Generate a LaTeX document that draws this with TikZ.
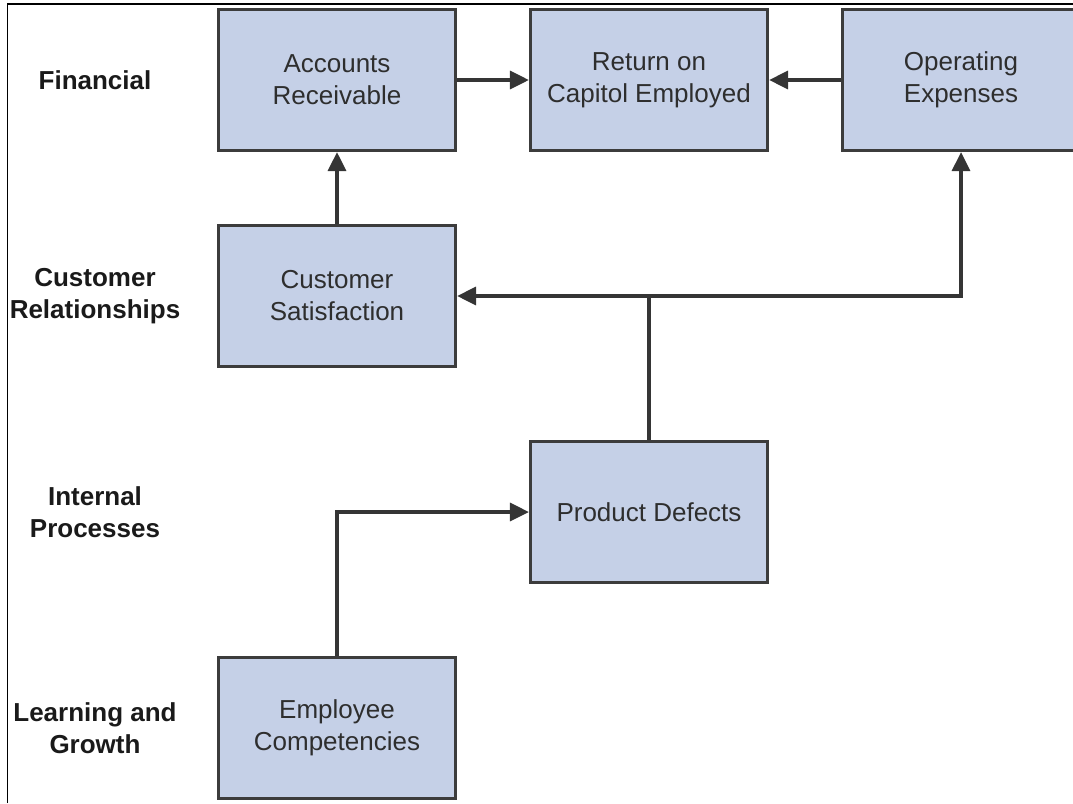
\documentclass[tikz,border=0pt]{standalone}
\usepackage{fontspec}
\setmainfont{Liberation Sans}
\usetikzlibrary{arrows.meta}

\definecolor{boxfill}{HTML}{C5D0E7}
\definecolor{boxline}{HTML}{3C3C3C}
\definecolor{boxtext}{HTML}{2E2E2E}
\definecolor{wire}{HTML}{353535}
\definecolor{lanetext}{HTML}{1A1A1A}

\tikzset{
  measure/.style={draw=boxline, line width=3.2pt, fill=boxfill,
    minimum width=237pt, minimum height=141pt, inner sep=0pt,
    align=center, text=boxtext, font=\fontsize{26}{32}\selectfont},
  lane/.style={align=center, text=lanetext, inner sep=0pt,
    font=\fontsize{26}{32}\selectfont\bfseries},
  link/.style={draw=wire, line width=3.2pt,
    -{Triangle[length=19pt,width=18pt]}},
  plain/.style={draw=wire, line width=3.2pt},
}

\begin{document}
\begin{tikzpicture}[x=1pt,y=-1pt]
  \useasboundingbox (0,0) rectangle (1073,803);
  \clip (0,0) rectangle (1073,803);

  % outer frame (left and top edges)
  \draw[line width=1.6pt] (7.5,803) -- (7.5,4) -- (1073,4);

  % perspective labels
  \node[lane] (lfin)  at (95,80)  {Financial};
  \node[lane] (lcust) at (95,296) {Customer\\Relationships};
  \node[lane] (lint)  at (95,512) {Internal\\Processes};
  \node[lane] (llrn)  at (95,728) {Learning and\\Growth};

  % measures
  \node[measure] (ar)   at (337,80)  {Accounts\\Receivable};
  \node[measure] (roce) at (649,80)  {Return on\\Capitol Employed};
  \node[measure] (opex) at (961,80)  {Operating\\Expenses};
  \node[measure] (cs)   at (337,296) {Customer\\Satisfaction};
  \node[measure] (pd)   at (649,512) {Product Defects};
  \node[measure] (ec)   at (337,728) {Employee\\Competencies};

  % cause-and-effect links
  \coordinate (split) at (pd.north |- cs.east);
  \draw[link] (ar.east) -- (roce.west);
  \draw[link] (opex.west) -- (roce.east);
  \draw[link] (cs.north) -- (ar.south);
  \draw[plain] (pd.north) -- (split);
  \draw[link] (split) -- (cs.east);
  \draw[link] (split) -| (opex.south);
  \draw[link] (ec.north) |- (pd.west);
\end{tikzpicture}
\end{document}
